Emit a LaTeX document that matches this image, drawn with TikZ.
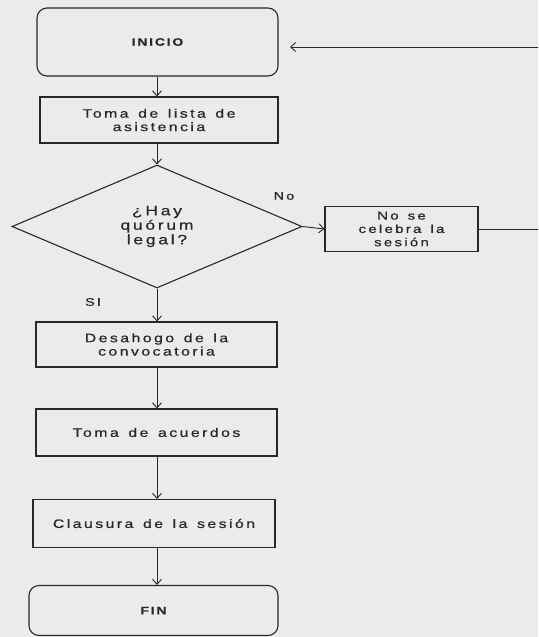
\documentclass[tikz,border=0pt]{standalone}
\usepackage{fontspec}
\setmainfont{Liberation Sans}
\newfontfamily\widespaced[LetterSpace=20,WordSpace=1.4,FakeStretch=1.3,FakeBold=0.6]{Liberation Sans}
\newfontfamily\termspaced[LetterSpace=16,FakeStretch=1.3,FakeBold=0.6]{Liberation Sans}
\usetikzlibrary{shapes.geometric,arrows.meta}
\definecolor{paper}{RGB}{236,234,236}
\definecolor{ink}{RGB}{40,40,40}
\begin{document}
\begin{tikzpicture}[x=1pt,y=-1pt,
  box/.style={draw=ink,line width=1.1pt,fill=paper,inner sep=0pt,align=center,
    font=\widespaced\fontsize{12.2}{13.4}\selectfont,text=ink},
  term/.style={box,rounded corners=10pt,font=\termspaced\bfseries\fontsize{10.8}{12}\selectfont},
  decision/.style={diamond,draw=ink,line width=1.1pt,fill=paper,inner sep=0pt,
    aspect=2.36,minimum width=290pt,minimum height=123pt,align=center,
    font=\widespaced\fontsize{13.5}{14.5}\selectfont,text=ink},
  conn/.style={draw=ink,line width=0.9pt,-{Straight Barb[length=5pt,width=9pt]}},
  lbl/.style={font=\widespaced\fontsize{11}{12}\selectfont,text=ink,inner sep=0pt}]
\fill[paper] (0,0) rectangle (538,637);
\useasboundingbox (0,0) rectangle (538,637);
\clip (0,0) rectangle (538,637);
\node[term,minimum width=241pt,minimum height=68pt] (inicio) at (157.5,42) {INICIO};
\node[box,minimum width=238pt,minimum height=46pt] (lista) at (159,120) {Toma de lista de\\asistencia};
\node[decision] (quorum) at (157,226.5) {¿Hay\\quórum\\legal?};
\node[box,minimum width=153pt,minimum height=45pt,font=\widespaced\fontsize{11.5}{13.3}\selectfont] (nose) at (401.5,229) {No se\\celebra la\\sesión};
\node[box,minimum width=241pt,minimum height=45pt] (desahogo) at (156.5,344.5) {Desahogo de la\\convocatoria};
\node[box,minimum width=241pt,minimum height=47pt] (acuerdos) at (156.5,432.5) {Toma de acuerdos};
\node[box,minimum width=242pt,minimum height=48pt] (clausura) at (154,523.5) {Clausura de la sesión};
\node[term,minimum width=249pt,minimum height=50pt] (fin) at (153.5,610.5) {FIN};
\node[lbl] (no) at (284,196) {No};
\node[lbl] (si) at (93,302) {SI};
\coordinate (r1) at (560,229);
\coordinate (r2) at (560,47);
\coordinate (r3) at (278,47);
\draw[conn] (quorum |- inicio.south) -- (quorum |- lista.north);
\draw[conn] (quorum |- lista.south) -- (quorum.north);
\draw[conn] (quorum.east) -- (nose.west);
\draw[conn] (quorum.south) -- (quorum |- desahogo.north);
\draw[conn] (quorum |- desahogo.south) -- (quorum |- acuerdos.north);
\draw[conn] (quorum |- acuerdos.south) -- (quorum |- clausura.north);
\draw[conn] (quorum |- clausura.south) -- (quorum |- fin.north);
\draw[conn,shorten >=12pt] (nose.east) -- (r1) -- (r2) -- (r3);
\end{tikzpicture}
\end{document}
